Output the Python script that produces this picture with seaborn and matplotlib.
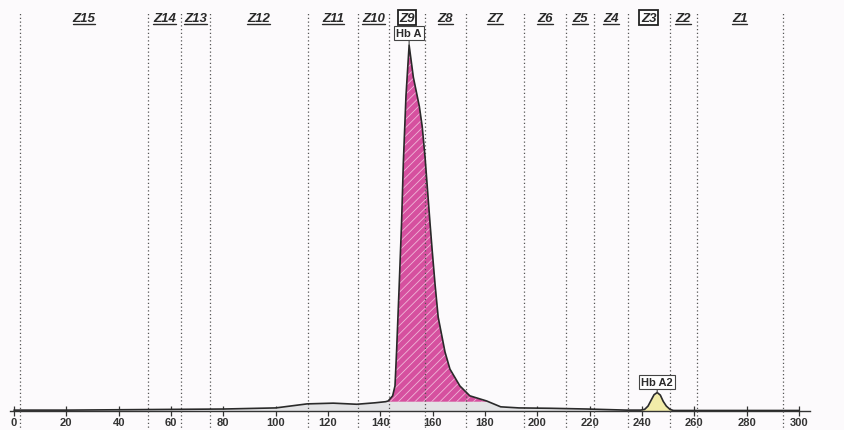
import numpy as np
import matplotlib
matplotlib.use("Agg")
import matplotlib.pyplot as plt
import seaborn as sns
from matplotlib.lines import Line2D

# electropherogram trace (migration position vs signal, % of Hb A peak)
positions = [0, 20, 40, 60, 80, 100, 112, 122, 131, 138, 142, 143, 144.7, 145.6,
             146.2, 147.2, 148.1, 148.8, 149.8, 151.0, 152.6, 154.9, 156.0, 157.1,
             158.1, 159.0, 159.8, 160.9, 162.1, 164.7, 166.6, 170.4, 174.2, 180.6,
             186, 193, 205, 219, 234, 239.5, 241, 242.3, 243.4, 244.6, 245.8, 247.0,
             248.1, 249.3, 250.7, 252, 270, 290, 300]
signal = [0.1, 0.1, 0.2, 0.3, 0.4, 0.7, 1.8, 2.0, 1.7, 2.1, 2.4, 2.6, 4.0, 6.7,
          16.0, 34.0, 50.9, 67.8, 85.9, 99.7, 91.0, 83.0, 77.5, 69.0,
          59.5, 51.0, 43.8, 34.5, 25.5, 16.0, 11.3, 6.7, 4.0, 2.6,
          1.0, 0.7, 0.6, 0.4, 0.1, 0.1, 0.3, 1.2, 2.7, 4.3, 4.9, 4.2,
          2.5, 1.2, 0.3, 0.0, 0.0, 0.0, 0.0]

# zone boundaries and names
zone_edges = [2.3, 51.2, 63.8, 74.9, 112.3, 131.4, 143.3, 157.0, 172.7, 194.9,
              210.9, 221.6, 234.6, 250.6, 260.9, 293.8]
zone_names = ["Z15", "Z14", "Z13", "Z12", "Z11", "Z10", "Z9", "Z8", "Z7", "Z6",
              "Z5", "Z4", "Z3", "Z2", "Z1"]
boxed_zones = ["Z9", "Z3"]

# integrated fractions
hba_range = (143, 180.6)
hba_floor = 2.4
hba2_range = (239.5, 252)
peak_labels = ["Hb A", "Hb A2"]
peak_pos = [151.0, 245.8]
peak_top = [99.7, 4.9]
label_gap = [2.0, 1.5]

x_ticks = list(range(0, 301, 20))

sns.set_theme(style="white")
plt.rcParams["font.family"] = ["Liberation Sans", "DejaVu Sans"]
plt.rcParams["hatch.linewidth"] = 0.6

bg = "#fcfafc"
fig = plt.figure(figsize=(8.44, 4.31), dpi=100, facecolor=bg)
ax = fig.add_axes([10 / 844, 19 / 431, 800 / 844, 412 / 431])
ax.set_facecolor(bg)

pos = np.array(positions)
sig = np.array(signal)

# grey area under the whole trace
ax.fill_between(pos, sig, 0, color="#e3e3e5", linewidth=0, zorder=1)

# Hb A fraction
m = (pos >= hba_range[0]) & (pos <= hba_range[1])
ax.fill_between(pos[m], sig[m], hba_floor, facecolor="#d6509f", edgecolor="#f0b8d8",
                hatch="////", linewidth=0, zorder=2)

# Hb A2 fraction
m2 = (pos >= hba2_range[0]) & (pos <= hba2_range[1])
ax.fill_between(pos[m2], sig[m2], 0, color="#f2eca9", linewidth=0, zorder=2)

sns.lineplot(x=positions, y=signal, sort=False, estimator=None, color="#2a2a2a",
             linewidth=1.2, ax=ax, zorder=4)

# zone dividers
for e in zone_edges:
    ax.axvline(e, ymin=-0.05, ymax=0.966, color="#555555", linestyle=(0, (1, 2)),
               linewidth=0.9, clip_on=False, zorder=3)

ax.set_xlim(-1.53, 304.2)
ax.set_ylim(-0.14, 112.3)

# zone labels
zone_texts = []
for i, name in enumerate(zone_names):
    cx = (zone_edges[i] + zone_edges[i + 1]) / 2
    kw = {}
    if name in boxed_zones:
        kw["bbox"] = dict(boxstyle="square,pad=0.12", facecolor="white",
                          edgecolor="#222222", linewidth=1.3)
    t = ax.text(cx, 107.2, name, ha="center", va="center", fontsize=9.5,
                fontweight="bold", fontstyle="italic", color="#2a2a2a", zorder=5, **kw)
    zone_texts.append(t)

# peak labels
for lab, px, py, gap in zip(peak_labels, peak_pos, peak_top, label_gap):
    ax.annotate(lab, xy=(px, py), xytext=(px, py + gap), ha="center", va="bottom",
                fontsize=8, fontweight="bold", color="#2a2a2a",
                bbox=dict(boxstyle="square,pad=0.2", facecolor="white",
                          edgecolor="#444444", linewidth=0.8),
                arrowprops=dict(arrowstyle="-", color="#444444", linewidth=0.8,
                                shrinkA=0, shrinkB=0), zorder=6)

# axis styling
for s in ["left", "top", "right"]:
    ax.spines[s].set_visible(False)
ax.spines["bottom"].set_color("#333333")
ax.spines["bottom"].set_linewidth(1.0)
ax.set_yticks([])
ax.set_xticks(x_ticks)
ax.set_xticklabels([str(v) for v in x_ticks], fontsize=8, fontweight="bold",
                   color="#333333")
ax.tick_params(axis="x", direction="inout", length=7, width=0.9, color="#333333",
               pad=1, bottom=True)

# underline zone labels
fig.canvas.draw()
renderer = fig.canvas.get_renderer()
for t in zone_texts:
    if t.get_text() in boxed_zones:
        continue
    bb = t.get_window_extent(renderer)
    y = (bb.y0 - 0.3) / fig.bbox.height
    fig.add_artist(Line2D([bb.x0 / fig.bbox.width, bb.x1 / fig.bbox.width], [y, y],
                          color="#2a2a2a", linewidth=1.0))

fig.savefig("out.png", dpi=100, facecolor=bg)
